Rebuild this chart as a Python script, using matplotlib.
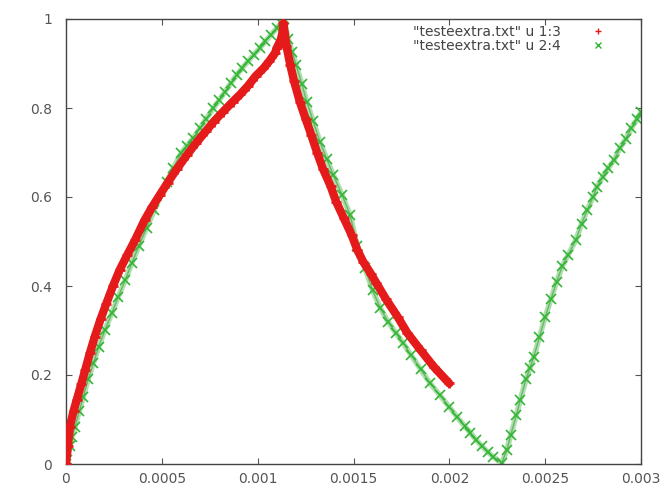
import numpy as np
import matplotlib
matplotlib.use('Agg')
import matplotlib.pyplot as plt
from matplotlib.lines import Line2D

plt.rcParams['font.family'] = ['DejaVu Sans']

# column 1 vs column 3
x13 = [0, 0.00001, 0.00002, 0.00004, 0.000056, 0.00008, 0.0001, 0.000125, 0.00015, 0.00018,
       0.00021, 0.000245, 0.00028, 0.00032, 0.00036, 0.00041, 0.00045, 0.00049, 0.00053, 0.00058,
       0.00063, 0.00068, 0.00073, 0.00077, 0.00082, 0.00087, 0.00091, 0.00095, 0.00099, 0.00103,
       0.00106, 0.00109, 0.0011, 0.00112, 0.00113, 0.001134, 0.00115, 0.00117, 0.00119, 0.00122,
       0.00125, 0.00128, 0.00131, 0.00134, 0.00138, 0.00141, 0.00145, 0.00149, 0.00152, 0.00155,
       0.00159, 0.00162, 0.00167, 0.00173, 0.00178, 0.00185, 0.00192, 0.002]
y13 = [0, 0.04, 0.084, 0.12, 0.144, 0.18, 0.211, 0.25, 0.286, 0.325,
       0.36, 0.40, 0.436, 0.47, 0.503, 0.548, 0.578, 0.605, 0.632, 0.664,
       0.694, 0.722, 0.748, 0.769, 0.792, 0.814, 0.831, 0.85, 0.872, 0.889,
       0.905, 0.923, 0.935, 0.953, 0.97, 0.99, 0.94, 0.897, 0.86, 0.814,
       0.776, 0.739, 0.70, 0.664, 0.625, 0.589, 0.552, 0.515, 0.481, 0.455,
       0.428, 0.406, 0.37, 0.331, 0.295, 0.256, 0.218, 0.181]

# column 2 vs column 4
x24 = [0, 0.000003, 0.00002, 0.00003, 0.000047, 0.00007, 0.00009, 0.000115, 0.000143, 0.00017,
       0.000203, 0.00024, 0.000273, 0.00031, 0.000343, 0.00038, 0.000421, 0.00046, 0.000525, 0.00056,
       0.0006, 0.00063, 0.000664, 0.0007, 0.00073, 0.000769, 0.0008, 0.00083, 0.00086, 0.00089,
       0.00092, 0.00095, 0.00098, 0.00101, 0.00104, 0.00107, 0.0011, 0.00112, 0.001137, 0.00116,
       0.00118, 0.0012, 0.00123, 0.001256, 0.00129, 0.001325, 0.00136, 0.001395, 0.00144, 0.001482,
       0.00152, 0.00156, 0.0016, 0.00164, 0.00168, 0.00172, 0.00176, 0.0018, 0.00185, 0.0019,
       0.00195, 0.002, 0.00204, 0.00208, 0.00211, 0.00214, 0.00217, 0.0022, 0.00223, 0.002273,
       0.0023, 0.00232, 0.00235, 0.00237, 0.0024, 0.00242, 0.00244, 0.00247, 0.0025, 0.00253,
       0.00256, 0.00259, 0.00262, 0.00266, 0.00269, 0.00272, 0.00275, 0.00277, 0.0028, 0.00283,
       0.00286, 0.00289, 0.00292, 0.00295, 0.00298, 0.003]
y24 = [0, 0.009, 0.04, 0.06, 0.084, 0.12, 0.151, 0.19, 0.226, 0.263,
       0.301, 0.34, 0.376, 0.414, 0.451, 0.49, 0.531, 0.57, 0.634, 0.665,
       0.698, 0.715, 0.732, 0.755, 0.775, 0.799, 0.818, 0.837, 0.856, 0.874,
       0.89, 0.905, 0.92, 0.934, 0.95, 0.965, 0.979, 0.99, 1.0, 0.955,
       0.925, 0.897, 0.855, 0.814, 0.77, 0.724, 0.686, 0.649, 0.605, 0.56,
       0.49, 0.44, 0.39, 0.35, 0.32, 0.295, 0.271, 0.245, 0.213, 0.181,
       0.155, 0.128, 0.106, 0.085, 0.07, 0.054, 0.04, 0.027, 0.016, 0.002,
       0.031, 0.065, 0.11, 0.144, 0.19, 0.215, 0.24, 0.285, 0.33, 0.37,
       0.41, 0.445, 0.47, 0.503, 0.54, 0.571, 0.60, 0.623, 0.645, 0.665,
       0.683, 0.71, 0.73, 0.755, 0.775, 0.79]

red = '#e51a1a'
green = '#35b535'
grey = '#555555'

fig = plt.figure(figsize=(6.69, 4.93), dpi=100)
ax = fig.add_axes([66/669, 29/493, 575/669, 445/493])

ax.plot(x13, y13, color=red, lw=6, solid_capstyle='round', zorder=3)
ax.plot(x13, y13, ls='none', marker='+', ms=7, mew=2, color=red, zorder=3)

# band under the crosses so the points read as a continuous trail
ax.plot(x24, y24, color='#6cc86c', lw=4, alpha=0.55, zorder=2)
ax.plot(x24, y24, color='#3a9a3a', lw=1, alpha=0.6, zorder=2)
ax.plot(x24, y24, ls='none', marker='x', ms=7, mew=1.2, color=green, zorder=2)

ax.set_xlim(0, 0.003)
ax.set_ylim(0, 1)
ax.set_xticks([0, 0.0005, 0.001, 0.0015, 0.002, 0.0025, 0.003])
ax.set_xticklabels(['0', '0.0005', '0.001', '0.0015', '0.002', '0.0025', '0.003'])
ax.set_yticks([0, 0.2, 0.4, 0.6, 0.8, 1])
ax.set_yticklabels(['0', '0.2', '0.4', '0.6', '0.8', '1'])
ax.tick_params(direction='in', length=4, width=0.8, color=grey, labelcolor=grey,
               labelsize=10, top=True, right=True)
ax.tick_params(axis='y', pad=10)
ax.tick_params(axis='x', pad=6)
for s in ax.spines.values():
    s.set_color('#444444')
    s.set_linewidth(1)

handles = [Line2D([], [], ls='none', marker='+', ms=5, mew=1, color=red),
           Line2D([], [], ls='none', marker='x', ms=5, mew=1, color=green)]
leg = ax.legend(handles, ['"testeextra.txt" u 1:3', '"testeextra.txt" u 2:4'],
                loc='upper right', bbox_to_anchor=(0.9496, 0.986), frameon=False,
                borderaxespad=0, borderpad=0, markerfirst=False, fontsize=10,
                handlelength=2, handletextpad=1.7, labelspacing=-0.05)
for t in leg.get_texts():
    t.set_color('#444444')

plt.savefig('out.png', dpi=100)
